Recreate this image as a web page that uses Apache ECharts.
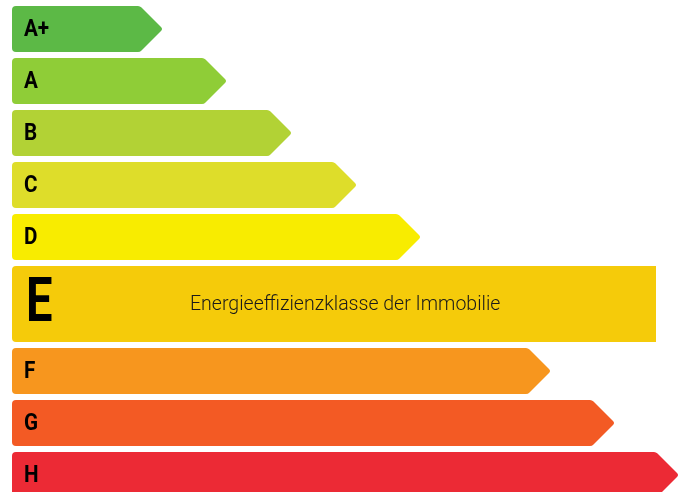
<!DOCTYPE html>
<html><head><meta charset="utf-8">
<script src="https://cdn.jsdelivr.net/npm/echarts/dist/echarts.min.js"></script>
<style>html,body{margin:0;padding:0;background:#fff}#c{width:687px;height:492px}</style>
</head><body><div id="c"></div>
<script>
// Energy efficiency classes (top to bottom)
const classes = ['A+','A','B','C','D','E','F','G','H'];
// Length of each arrow (x units)
const barLength = [151, 215, 280, 345, 409, 644, 539, 603, 667];
const colors = ['#5cb946','#8fcd37','#b2d235','#dedd2a','#f8ec00','#f5cb0a','#f7961e','#f35a24','#ec2a35'];
const currentClass = 'E';
const currentLabel = 'Energieeffizienzklasse der Immobilie';

const ROW_H = 46, CUR_H = 76, GAP = 6;
let acc = 0;
const data = classes.map((c, i) => {
  const h = c === currentClass ? CUR_H : ROW_H;
  const item = { name: c, value: [barLength[i], acc, acc + h] };
  acc += h + GAP;
  return item;
});

function renderItem(params, api) {
  const idx = params.dataIndex;
  const len = api.value(0), y0v = api.value(1), y1v = api.value(2);
  const p0 = api.coord([0, y0v]);
  const p1 = api.coord([len, y1v]);
  const x0 = p0[0], top = p0[1], right = p1[0], bottom = p1[1];
  const h = bottom - top, mid = (top + bottom) / 2;
  const isCur = classes[idx] === currentClass;
  const color = colors[idx];
  const children = [];
  const labelFont = 'Roboto, sans-serif';
  if (isCur) {
    children.push({
      type: 'rect',
      shape: { x: x0, y: top, width: right - x0, height: h, r: [4, 0, 0, 4] },
      style: { fill: color }
    });
    children.push({
      type: 'text',
      x: x0 + 14, y: mid + 1, scaleX: 0.76,
      style: { text: classes[idx], fontFamily: labelFont,
        fontWeight: 'bold', fontSize: 62, fill: '#000', verticalAlign: 'middle', align: 'left' }
    });
    children.push({
      type: 'text',
      x: 190, y: mid + 1, scaleX: 0.93,
      style: { text: currentLabel, fontFamily: 'Roboto, sans-serif', fontWeight: 300,
        fontSize: 21, fill: '#1a1a1a', verticalAlign: 'middle', align: 'left' }
    });
  } else {
    const tip = right, xb = right - h / 2, r = 4;
    const d = `M${x0 + r},${top} L${xb - 2},${top} Q${xb},${top} ${xb + 1.5},${top + 1.5} ` +
      `L${tip - 2},${mid - 2} Q${tip},${mid} ${tip - 2},${mid + 2} ` +
      `L${xb + 1.5},${bottom - 1.5} Q${xb},${bottom} ${xb - 2},${bottom} ` +
      `L${x0 + r},${bottom} Q${x0},${bottom} ${x0},${bottom - r} L${x0},${top + r} Q${x0},${top} ${x0 + r},${top} Z`;
    children.push({ type: 'path', shape: { pathData: d }, style: { fill: color } });
    children.push({
      type: 'text',
      x: x0 + 12, y: mid + 0.5, scaleX: 0.86,
      style: { text: classes[idx], fontFamily: labelFont,
        fontWeight: 'bold', fontSize: 24, fill: '#000', verticalAlign: 'middle', align: 'left' }
    });
  }
  return { type: 'group', children };
}

const chart = echarts.init(document.getElementById('c'), null, { renderer: 'canvas' });
chart.setOption({
  animation: false,
  backgroundColor: '#ffffff',
  grid: { left: 12, top: 6, right: 0, bottom: 0 },
  xAxis: { type: 'value', min: 0, max: 675, show: false },
  yAxis: { type: 'value', min: 0, max: 486, inverse: true, show: false },
  series: [{ type: 'custom', renderItem, data, clip: false }]
});
</script>
</body></html>
